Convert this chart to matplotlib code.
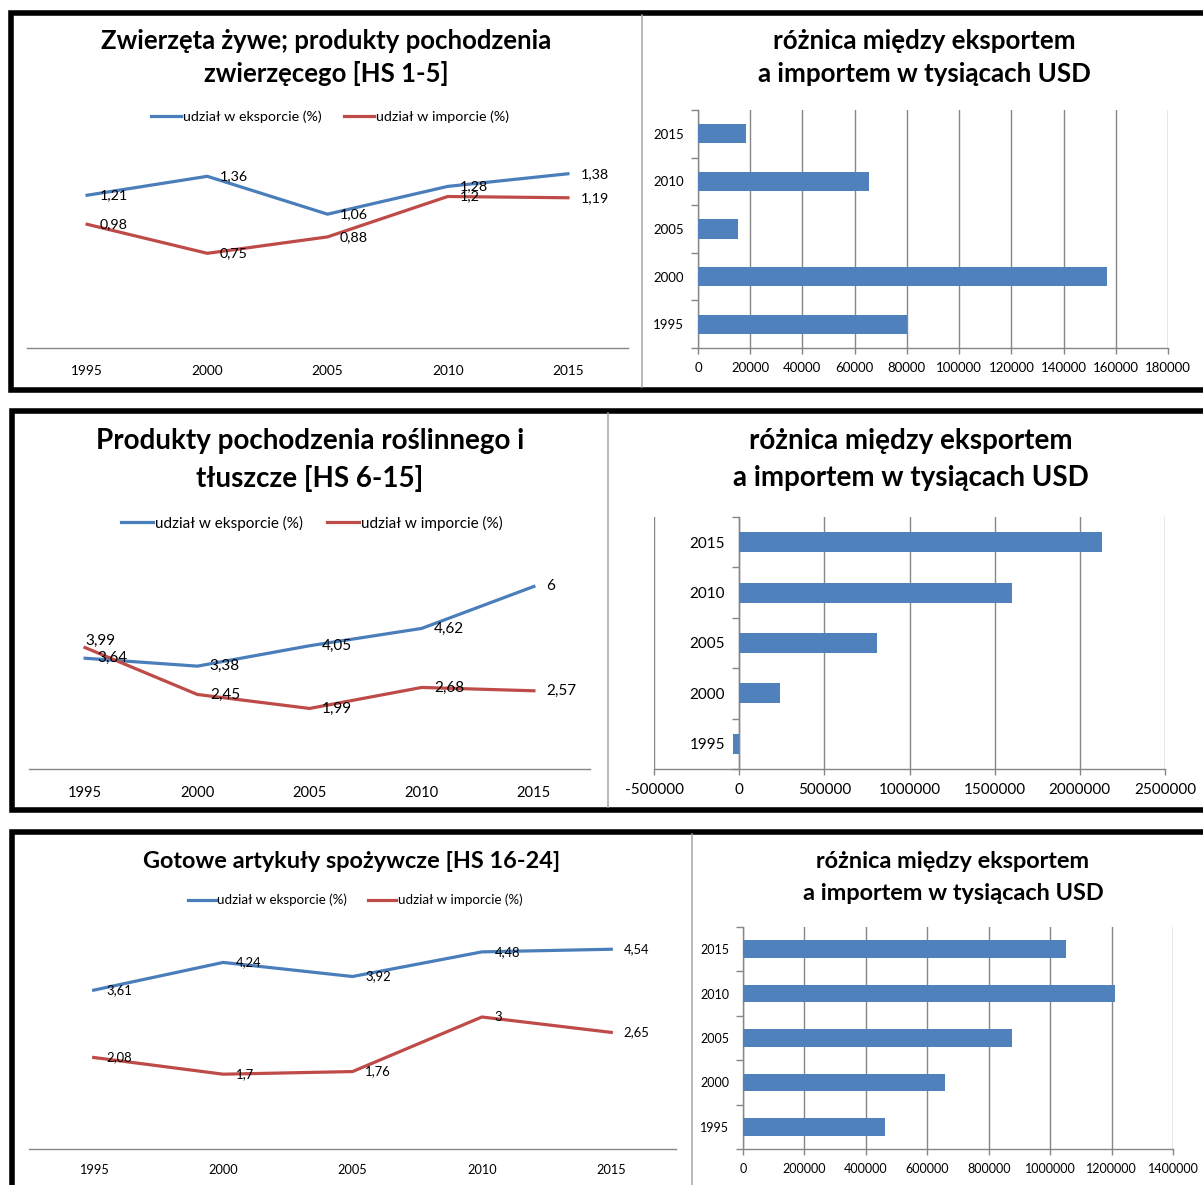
import matplotlib
matplotlib.use('Agg')
import matplotlib.pyplot as plt
from matplotlib.ticker import FuncFormatter

plt.rcParams['font.family'] = ['Lato', 'DejaVu Sans']
plt.rcParams['axes.unicode_minus'] = False

W, H = 1203, 1185

years = ['1995', '2000', '2005', '2010', '2015']
series_labels = ['udział w eksporcie (%)', 'udział w imporcie (%)']
bar_title = ['różnica między eksportem', 'a importem w tysiącach USD']

hs1_title = ['Zwierzęta żywe; produkty pochodzenia', 'zwierzęcego [HS 1-5]']
hs1_export = [1.21, 1.36, 1.06, 1.28, 1.38]
hs1_import = [0.98, 0.75, 0.88, 1.2, 1.19]
hs1_balance = [80000, 156700, 15400, 65500, 18500]

hs6_title = ['Produkty pochodzenia roślinnego i', 'tłuszcze [HS 6-15]']
hs6_export = [3.64, 3.38, 4.05, 4.62, 6]
hs6_import = [3.99, 2.45, 1.99, 2.68, 2.57]
hs6_balance = [-38000, 240000, 810000, 1600000, 2128000]

hs16_title = ['Gotowe artykuły spożywcze [HS 16-24]']
hs16_export = [3.61, 4.24, 3.92, 4.48, 4.54]
hs16_import = [2.08, 1.7, 1.76, 3, 2.65]
hs16_balance = [461000, 658000, 875000, 1212000, 1050000]

BLUE = '#4A7EBB'
RED = '#BE4B48'
BAR = '#4F81BD'
GRID = '#868686'

fig = plt.figure(figsize=(W / 100, H / 100), dpi=100)


def px_axes(l, t, r, b):
    return fig.add_axes([l / W, 1 - b / H, (r - l) / W, (b - t) / H])


def fmt(v):
    return f'{v:g}'.replace('.', ',')


def title(lines, cx, ys, size):
    for txt, y in zip(lines, ys):
        fig.text(cx / W, 1 - y / H, txt, ha='center', va='center',
                 fontsize=size, fontweight='bold')


def line_chart(box, exp, imp, ymax, leg_xy, leg_fs, lab_fs, tick_fs, tick_pad, moved=None):
    ax = px_axes(*box)
    x = list(range(len(years)))
    l1, = ax.plot(x, exp, color=BLUE, lw=2.3)
    l2, = ax.plot(x, imp, color=RED, lw=2.3)
    for key, vals in (('e', exp), ('i', imp)):
        for i, v in enumerate(vals):
            off = (9, 0)
            if moved and (key, i) in moved:
                off = moved[(key, i)]
            ax.annotate(fmt(v), (i, v), xytext=off, textcoords='offset points',
                        ha='left', va='center', fontsize=lab_fs)
    ax.set_xlim(-0.5, 4.5)
    ax.set_ylim(0, ymax)
    ax.set_xticks(x)
    ax.set_xticklabels(years)
    ax.set_yticks([])
    ax.tick_params(axis='x', length=0, pad=tick_pad, labelsize=tick_fs)
    for s in ('top', 'right', 'left'):
        ax.spines[s].set_visible(False)
    ax.spines['bottom'].set_color(GRID)
    ax.spines['bottom'].set_linewidth(1.0)
    ax.patch.set_visible(False)
    ax.legend([l1, l2], series_labels, loc='center',
              bbox_to_anchor=(leg_xy[0] / W, 1 - leg_xy[1] / H),
              bbox_transform=fig.transFigure, ncol=2, frameon=False,
              fontsize=leg_fs, handlelength=2.1, handletextpad=0.1,
              columnspacing=1.6, borderpad=0)


def bar_chart(box, vals, xmin, xmax, step, tick_fs, ypad, xpad):
    ax = px_axes(*box)
    y = list(range(len(years)))
    ax.barh(y, vals, height=0.4, color=BAR, zorder=3)
    ax.set_xlim(xmin, xmax)
    ax.set_ylim(-0.5, 4.5)
    ax.set_xticks(list(range(xmin, xmax + 1, step)))
    ax.xaxis.set_major_formatter(FuncFormatter(lambda v, p: f'{v:.0f}'))
    ax.grid(axis='x', color=GRID, lw=1.0)
    ax.set_axisbelow(True)
    ax.set_yticks(y)
    ax.set_yticklabels(years)
    ax.set_yticks([i - 0.5 for i in range(len(years) + 1)], minor=True)
    ax.tick_params(axis='y', which='major', length=0, pad=ypad, labelsize=tick_fs)
    ax.tick_params(axis='y', which='minor', length=5, color=GRID, width=1.0)
    ax.tick_params(axis='x', length=4, color=GRID, width=1.0, pad=xpad, labelsize=tick_fs)
    for s in ('top', 'right'):
        ax.spines[s].set_visible(False)
    ax.spines['left'].set_position(('data', 0))
    for s in ('left', 'bottom'):
        ax.spines[s].set_color(GRID)
        ax.spines[s].set_linewidth(1.0)
    ax.patch.set_visible(False)


# row 1
title(hs1_title, 326, [41, 74], 18.5)
line_chart((27, 146, 628, 348), hs1_export, hs1_import, 1.6, (330, 117),
           10.3, 10.3, 9.8, 12)
title(bar_title, 924, [41, 74], 18.6)
bar_chart((698, 110, 1168, 348), hs1_balance, 0, 180000, 20000, 9.5, 10, 6)

# row 2
title(hs6_title, 310, [441, 478], 20)
line_chart((29, 556, 590, 769), hs6_export, hs6_import, 7, (312, 523),
           11, 11, 10.6, 12, moved={('i', 0): (0, 5)})
title(bar_title, 911, [441, 478], 20)
bar_chart((654, 517, 1165, 769), hs6_balance, -500000, 2500000, 500000, 11, 10, 6)

# row 3
title(hs16_title, 352, [862], 16.9)
line_chart((29, 929, 676, 1149), hs16_export, hs16_import, 5, (355, 900),
           9.6, 9.4, 9.2, 11)
title(bar_title, 953, [862, 894], 16.9)
bar_chart((743, 927, 1173, 1149), hs16_balance, 0, 1400000, 200000, 9.0, 10, 6)

# frames round the three screenshots
ov = fig.add_axes([0, 0, 1, 1], zorder=10)
ov.set_xlim(0, W)
ov.set_ylim(H, 0)
ov.axis('off')
ov.patch.set_visible(False)
frame = dict(color='black', lw=4.0, solid_joinstyle='miter', solid_capstyle='butt')
ov.plot([W + 5, 10.5, 10.5, W + 5], [12.5, 12.5, 389.5, 389.5], **frame)
ov.plot([W + 5, 12, 12, W + 5], [410.5, 410.5, 809.5, 809.5], **frame)
ov.plot([W + 5, 11.5, 11.5], [831.5, 831.5, H + 5], **frame)
sep = dict(color='#A6A6A6', lw=1.1)
ov.plot([642, 642], [15, 387], **sep)
ov.plot([608, 608], [413, 807], **sep)
ov.plot([692, 692], [834, H], **sep)

fig.savefig('out.png', dpi=100)
